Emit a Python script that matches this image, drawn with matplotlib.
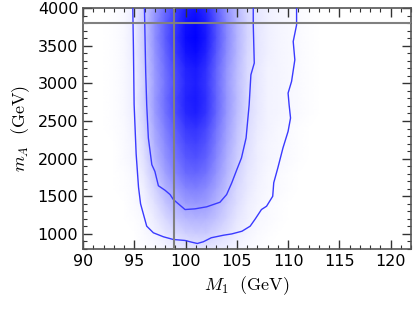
import numpy as np
import matplotlib
matplotlib.use("Agg")
import matplotlib.pyplot as plt
from matplotlib.colors import LinearSegmentedColormap
from matplotlib.ticker import MultipleLocator

plt.rcParams['mathtext.fontset'] = 'cm'

# Heatmap grid (node centres)
m1_nodes = [92, 93, 94, 95, 96, 97, 98, 99, 100, 101, 102, 103, 104, 105, 106, 107, 108, 109, 110, 111, 112, 113]
ma_nodes = [4000, 3800, 3600, 3400, 3200, 3000, 2800, 2600, 2400, 2200, 2000, 1800, 1600, 1400, 1200, 1000, 800]
density = [
    [0, .01, .03, .07, .20, .40, .58, .74, .88, .92, .83, .63, .43, .28, .16, .09, .06, .04, .03, .02, .01, 0],
    [0, .01, .03, .08, .22, .43, .62, .78, .94, .98, .88, .67, .46, .29, .17, .10, .06, .04, .03, .02, .01, 0],
    [0, .01, .03, .08, .22, .44, .63, .80, .96, 1.0, .90, .68, .47, .30, .17, .10, .06, .04, .03, .02, .01, 0],
    [0, .01, .03, .08, .21, .42, .60, .77, .92, .96, .86, .65, .45, .29, .16, .10, .06, .04, .03, .02, .01, 0],
    [0, .01, .03, .07, .20, .40, .57, .72, .86, .90, .81, .61, .42, .27, .15, .09, .05, .04, .03, .02, .01, 0],
    [0, .01, .03, .07, .19, .39, .55, .70, .84, .88, .79, .60, .41, .26, .15, .09, .05, .04, .03, .02, .01, 0],
    [0, .01, .03, .07, .20, .40, .57, .72, .86, .90, .81, .61, .42, .27, .15, .09, .05, .04, .03, .02, .01, 0],
    [0, .01, .03, .07, .19, .39, .55, .70, .84, .88, .79, .60, .41, .26, .15, .09, .05, .04, .03, .02, .01, 0],
    [0, .01, .02, .06, .17, .35, .50, .64, .77, .80, .72, .55, .38, .24, .14, .08, .05, .03, .02, .01, 0, 0],
    [0, 0, .02, .05, .15, .32, .46, .59, .71, .74, .67, .51, .35, .22, .13, .07, .04, .03, .02, .01, 0, 0],
    [0, 0, .02, .04, .13, .28, .42, .54, .65, .68, .62, .47, .32, .20, .12, .07, .04, .03, .02, .01, 0, 0],
    [0, 0, .01, .03, .10, .23, .36, .48, .58, .60, .55, .42, .29, .18, .10, .06, .03, .02, .01, 0, 0, 0],
    [0, 0, .01, .02, .07, .17, .29, .39, .48, .50, .46, .36, .25, .15, .09, .05, .03, .02, .01, 0, 0, 0],
    [0, 0, 0, .02, .05, .12, .22, .31, .38, .40, .38, .30, .21, .13, .07, .04, .02, .01, 0, 0, 0, 0],
    [0, 0, 0, .01, .03, .08, .15, .23, .28, .30, .29, .24, .17, .10, .06, .03, .02, .01, 0, 0, 0, 0],
    [0, 0, 0, 0, .02, .05, .09, .14, .18, .20, .20, .16, .12, .07, .04, .02, .01, 0, 0, 0, 0, 0],
    [0, 0, 0, 0, .01, .02, .04, .07, .09, .10, .10, .08, .06, .04, .02, .01, 0, 0, 0, 0, 0, 0],
]

# Contour paths (outer and inner credible regions)
outer_m1 = [94.84, 94.9, 94.97, 95.17, 95.4, 95.6, 96.2, 96.85, 97.83, 98.8, 99.94, 100.6, 101.14,
            101.73, 102.5, 103.7, 104.5, 105.5, 106.3, 106.8, 107.4, 107.9, 108.5, 108.6, 109.0,
            109.5, 110.0, 110.24, 110.1, 110.0, 110.34, 110.66, 110.5, 110.83, 110.83]
outer_ma = [4000, 3500, 2720, 2060, 1620, 1400, 1103, 1015, 962, 926, 913, 890, 873,
            896, 949, 983, 1000, 1036, 1103, 1200, 1324, 1368, 1500, 1680, 1877,
            2142, 2362, 2540, 2716, 2871, 3026, 3313, 3556, 3777, 4000]
inner_m1 = [95.98, 96.1, 96.2, 96.36, 96.7, 97.0, 97.34, 97.99, 98.48, 98.8, 99.94, 100.9, 102.05,
            103.35, 104.0, 104.5, 105.0, 105.45, 105.9, 106.2, 106.37, 106.7, 106.6, 106.6]
inner_ma = [4000, 3158, 2716, 2275, 1920, 1830, 1640, 1580, 1523, 1457, 1324, 1333, 1360,
            1421, 1523, 1678, 1855, 2010, 2275, 2716, 3114, 3270, 3777, 4000]

ref_m1 = 98.9
ref_ma = 3800

x_ticks = [90, 95, 100, 105, 110, 115, 120]
y_ticks = [1000, 1500, 2000, 2500, 3000, 3500, 4000]

fig = plt.figure(figsize=(4.16, 3.12), dpi=100)
ax = fig.add_axes([0.2, 0.202, 0.788, 0.772])

cmap = LinearSegmentedColormap.from_list('wb', ['#ffffff', '#0000ff'])
X, Y = np.meshgrid(m1_nodes, ma_nodes)
ax.pcolormesh(X, Y, np.array(density), cmap=cmap, vmin=0, vmax=1, shading='gouraud', zorder=1)

ax.plot(outer_m1, outer_ma, color='#3a3aff', lw=1.0, zorder=3)
ax.plot(inner_m1, inner_ma, color='#3a3aff', lw=1.0, zorder=3)

ax.axvline(ref_m1, color='#808080', lw=1.5, zorder=4)
ax.axhline(ref_ma, color='#808080', lw=1.5, zorder=4)

ax.set_xlim(90, 122)
ax.set_ylim(800, 4000)
ax.set_xticks(x_ticks)
ax.set_yticks(y_ticks)
ax.xaxis.set_minor_locator(MultipleLocator(1))
ax.yaxis.set_minor_locator(MultipleLocator(100))
ax.tick_params(which='both', direction='in', top=True, right=True, colors='#333333',
               labelcolor='black', labelsize=11.5)
ax.tick_params(which='major', length=6.5, width=1.0)
ax.tick_params(which='minor', length=3, width=0.8)
for s in ax.spines.values():
    s.set_color('#555555')
    s.set_linewidth(1.2)

ax.set_xlabel(r'$M_1\ \ (\mathrm{GeV})$', fontsize=13)
ax.set_ylabel(r'$m_A\ \ (\mathrm{GeV})$', fontsize=13)

fig.savefig('out.png', dpi=100)
